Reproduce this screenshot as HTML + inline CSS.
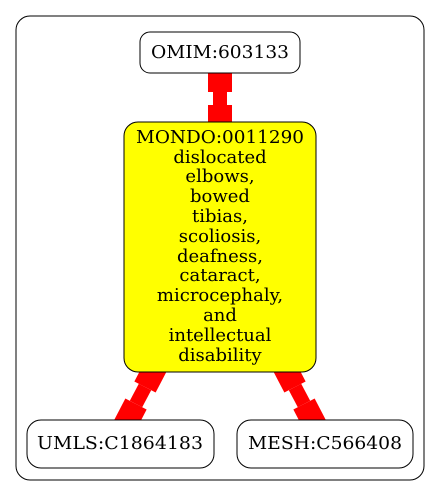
<!DOCTYPE html>
<html><head><style>body{margin:0;background:#fff}svg{display:block}</style></head><body>
<svg width="440" height="496" viewBox="0 0 440 496" font-family="DejaVu Serif, serif" font-size="18">
<rect x="16" y="16" width="408" height="464" rx="14" fill="none" stroke="#000"/>
<g stroke="#f00" fill="none">
<line x1="220" y1="68" x2="220" y2="92" stroke-width="24"/>
<line x1="220" y1="92" x2="220" y2="105" stroke-width="14"/>
<line x1="220" y1="105" x2="220" y2="128" stroke-width="24"/>
<line x1="157" y1="364" x2="145" y2="387" stroke-width="24"/>
<line x1="145" y1="387" x2="136" y2="404" stroke-width="14"/>
<line x1="136" y1="404" x2="123" y2="429" stroke-width="24"/>
<line x1="283" y1="364" x2="295" y2="387" stroke-width="24"/>
<line x1="295" y1="387" x2="304" y2="404" stroke-width="14"/>
<line x1="304" y1="404" x2="317" y2="429" stroke-width="24"/>
</g>
<rect x="140" y="32" width="160" height="41" rx="10" fill="#fff" stroke="#000"/>
<text x="220" y="58" text-anchor="middle" textLength="138" lengthAdjust="spacingAndGlyphs">OMIM:603133</text>
<rect x="124" y="122" width="192" height="250" rx="14" fill="#ff0" stroke="#000"/>
<g text-anchor="middle">
<text x="220" y="143" textLength="168" lengthAdjust="spacingAndGlyphs">MONDO:0011290</text>
<text x="220" y="163">dislocated</text>
<text x="220" y="182">elbows,</text>
<text x="220" y="202">bowed</text>
<text x="220" y="222">tibias,</text>
<text x="220" y="242">scoliosis,</text>
<text x="220" y="262">deafness,</text>
<text x="220" y="281">cataract,</text>
<text x="220" y="301">microcephaly,</text>
<text x="220" y="321">and</text>
<text x="220" y="341">intellectual</text>
<text x="220" y="361">disability</text>
</g>
<rect x="27" y="420" width="187" height="48" rx="14" fill="#fff" stroke="#000"/>
<text x="120" y="449" text-anchor="middle" textLength="166" lengthAdjust="spacingAndGlyphs">UMLS:C1864183</text>
<rect x="237" y="420" width="176" height="48" rx="14" fill="#fff" stroke="#000"/>
<text x="325" y="449" text-anchor="middle" textLength="154" lengthAdjust="spacingAndGlyphs">MESH:C566408</text>
</svg>
</body></html>
